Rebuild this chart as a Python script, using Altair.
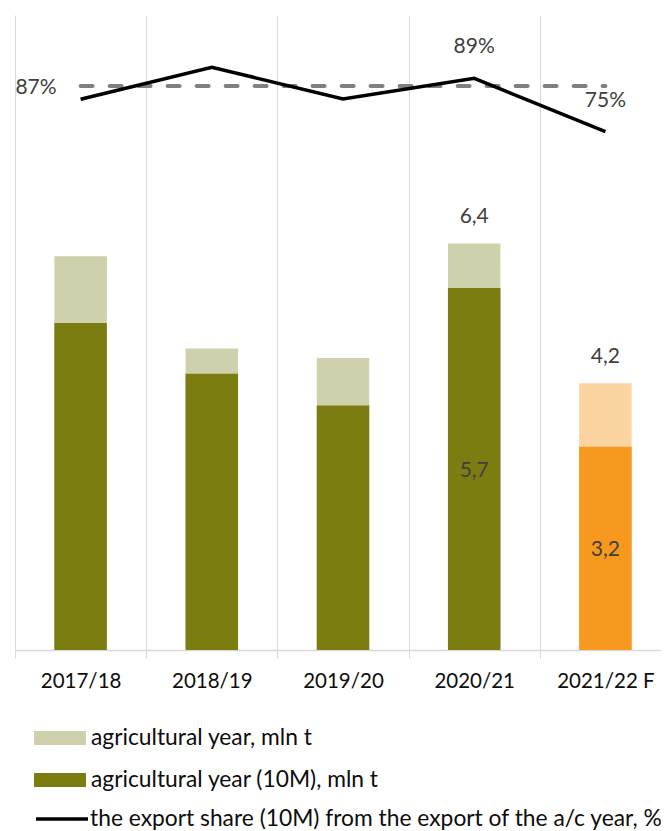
import altair as alt
import pandas as pd

years = ["2017/18", "2018/19", "2019/20", "2020/21", "2021/22 F"]
total_year = [6.2, 4.75, 4.6, 6.4, 4.2]
ten_months = [5.15, 4.35, 3.85, 5.7, 3.2]
export_share = [0.835, 0.919, 0.836, 0.89, 0.75]
average_share = [0.87, 0.87, 0.87, 0.87, 0.87]
total_labels = ["", "", "", "6,4", "4,2"]
ten_labels = ["", "", "", "5,7", "3,2"]
share_labels = ["", "", "", "89%", "75%"]
avg_labels = ["87%", "", "", "", ""]

S_TOTAL = "agricultural year, mln t"
S_TEN = "agricultural year (10M), mln t"
S_LINE = "the export share (10M) from the export of the a/c year, %"
total_series = [S_TOTAL] * 4 + [S_TOTAL + " F"]
ten_series = [S_TEN] * 4 + [S_TEN + " F"]

df = pd.DataFrame({
    "year": years,
    "total": total_year,
    "ten": ten_months,
    "share": export_share,
    "avg": average_share,
    "total_label": total_labels,
    "ten_label": ten_labels,
    "share_label": share_labels,
    "avg_label": avg_labels,
    "total_series": total_series,
    "ten_series": ten_series,
    "line_series": [S_LINE] * 5,
})

FONT = "Lato"
LABEL_COLOR = "#404040"
RECT_PATH = "M-1,-0.27H1V0.27H-1Z"
LEG_FONT = 22.8

x_enc = alt.X(
    "year:N",
    sort=years,
    scale=alt.Scale(paddingInner=0, paddingOuter=0, rangeMax=656),
    axis=alt.Axis(
        title=None, tickBand="extent", grid=True, gridColor="#d9d9d9", gridWidth=1,
        domainColor="#d9d9d9", domainWidth=1.5, tickColor="#d9d9d9", tickSize=8,
        tickWidth=1, labelFont=FONT, labelFontSize=20.5, labelColor="#0d0d0d",
        labelPadding=23, labelBaseline="middle", labelAngle=0,
    ),
)

bar_scale = alt.Scale(domain=[0, 10], nice=False, zero=True)
pct_scale = alt.Scale(domain=[-0.609, 1.056], nice=False, zero=False)

base = alt.Chart(df)

total_bars = base.mark_bar(width=alt.RelativeBandSize(0.4)).encode(
    x=x_enc,
    y=alt.Y("total:Q", scale=bar_scale, axis=None),
    fill=alt.Fill(
        "total_series:N",
        scale=alt.Scale(domain=[S_TOTAL, S_TOTAL + " F"], range=["#cfd0ac", "#fbd4a2"]),
        legend=alt.Legend(
            values=[S_TOTAL], orient="none", legendX=19, legendY=697, title=None,
            symbolType=RECT_PATH, symbolSize=2704, symbolStrokeWidth=0,
            labelFont=FONT, labelFontSize=LEG_FONT, labelColor="#0d0d0d", labelLimit=700,
            labelOffset=5, padding=0, symbolOffset=0,
        ),
    ),
)

ten_bars = base.mark_bar(width=alt.RelativeBandSize(0.4)).encode(
    x=x_enc,
    y=alt.Y("ten:Q", scale=bar_scale, axis=None),
    color=alt.Color(
        "ten_series:N",
        scale=alt.Scale(domain=[S_TEN, S_TEN + " F"], range=["#7c7d10", "#f7991f"]),
        legend=alt.Legend(
            values=[S_TEN], orient="none", legendX=19, legendY=739, title=None,
            symbolType=RECT_PATH, symbolSize=2704, symbolStrokeWidth=0,
            labelFont=FONT, labelFontSize=LEG_FONT, labelColor="#0d0d0d", labelLimit=700,
            labelOffset=5, padding=0, symbolOffset=0,
        ),
    ),
)

total_text = base.mark_text(
    font=FONT, fontSize=21, color=LABEL_COLOR, baseline="middle", dy=-26.5
).encode(
    x=x_enc,
    y=alt.Y("total:Q", scale=bar_scale, axis=None),
    text="total_label:N",
).transform_filter("datum.total_label != ''")

ten_text = base.mark_text(
    font=FONT, fontSize=21, color=LABEL_COLOR, baseline="middle", dy=1.5
).transform_calculate(half="datum.ten / 2").transform_filter(
    "datum.ten_label != ''"
).encode(
    x=x_enc,
    y=alt.Y("half:Q", scale=bar_scale, axis=None),
    text="ten_label:N",
)

avg_line = base.mark_line(
    color="#808080", strokeWidth=4, strokeDash=[12, 17], strokeCap="round"
).encode(
    x=x_enc,
    y=alt.Y("avg:Q", scale=pct_scale, axis=None),
)

share_line = base.mark_line(strokeWidth=3.5).encode(
    x=x_enc,
    y=alt.Y("share:Q", scale=pct_scale, axis=None),
    stroke=alt.Stroke(
        "line_series:N",
        scale=alt.Scale(domain=[S_LINE], range=["#000000"]),
        legend=alt.Legend(
            orient="none", legendX=19, legendY=776, title=None,
            symbolType="stroke", symbolSize=2704, symbolStrokeWidth=3.5,
            labelFont=FONT, labelFontSize=LEG_FONT, labelColor="#0d0d0d", labelLimit=700,
            labelOffset=0, padding=0, symbolOffset=0,
        ),
    ),
)

share_text = base.mark_text(
    font=FONT, fontSize=21, color=LABEL_COLOR, baseline="middle", dy=-31
).encode(
    x=x_enc,
    y=alt.Y("share:Q", scale=pct_scale, axis=None),
    text="share_label:N",
).transform_filter("datum.share_label != ''")

avg_text = base.mark_text(
    font=FONT, fontSize=21, color=LABEL_COLOR, baseline="middle", dx=-44.6, dy=2
).encode(
    x=x_enc,
    y=alt.Y("avg:Q", scale=pct_scale, axis=None),
    text="avg_label:N",
).transform_filter("datum.avg_label != ''")

chart = alt.layer(
    total_bars, ten_bars, total_text, ten_text, avg_line, share_line, share_text, avg_text
).resolve_scale(y="independent").properties(
    width=646,
    height=635,
    autosize=alt.AutoSizeParams(type="none"),
    padding={"left": 7, "top": 7, "right": 0, "bottom": 182},
    background="white",
).configure_view(strokeWidth=0)

chart.save("out.html", embed_options={"renderer": "svg", "actions": False})
